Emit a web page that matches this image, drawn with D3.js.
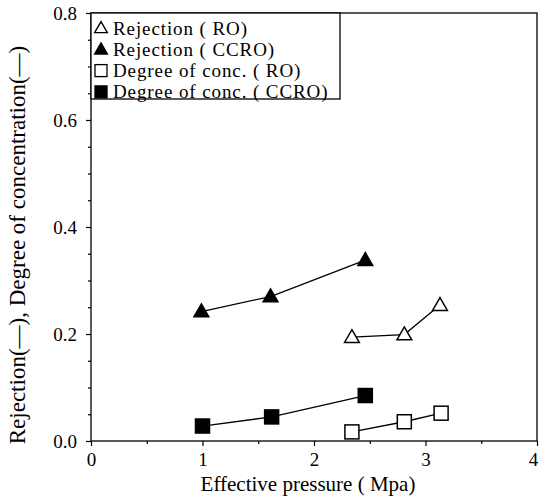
<!DOCTYPE html>
<html><head><meta charset="utf-8">
<script src="https://cdn.jsdelivr.net/npm/d3@7"></script>
<style>body{margin:0;background:#fff}svg{display:block}text{font-family:"Liberation Serif","Times New Roman",serif;fill:#000}</style>
</head><body><svg id="c" width="539" height="499"></svg>
<script>
const xTicks = [0, 1, 2, 3, 4];
const yTicks = [0.0, 0.2, 0.4, 0.6, 0.8];
const rejRO_x = [2.34, 2.81, 3.13];
const rejRO_y = [0.194, 0.199, 0.254];
const rejCCRO_x = [0.99, 1.61, 2.46];
const rejCCRO_y = [0.242, 0.270, 0.338];
const concRO_x = [2.34, 2.81, 3.14];
const concRO_y = [0.017, 0.036, 0.052];
const concCCRO_x = [1.0, 1.62, 2.46];
const concCCRO_y = [0.028, 0.045, 0.085];
const legendLabels = ["Rejection ( RO)", "Rejection ( CCRO)", "Degree of conc. ( RO)", "Degree of conc. ( CCRO)"];
const xTitle = "Effective pressure ( Mpa)";
const yTitle = "Rejection(\u2014), Degree of concentration(\u2014)";

const svg = d3.select("#c");
const L = 91, R = 537, T = 13, B = 441;
const x = d3.scaleLinear().domain([0, 4]).range([L, R]);
const y = d3.scaleLinear().domain([0, 0.8]).range([B, T]);

// frame
svg.append("rect").attr("x", L).attr("y", T).attr("width", R - L).attr("height", B - T)
  .attr("fill", "none").attr("stroke", "#000").attr("stroke-width", 1.3);

// x axis
svg.append("g").attr("transform", `translate(0,${B})`)
  .call(d3.axisBottom(x).tickValues(xTicks).tickFormat(d3.format("d")).tickSize(5).tickPadding(7))
  .selectAll(".tick text").attr("dx", d => d === 4 ? -4 : 0);
svg.append("g").attr("transform", `translate(0,${B})`)
  .call(d3.axisBottom(x).tickValues(d3.range(0.5, 4, 1)).tickFormat("").tickSize(3));
// y axis
svg.append("g").attr("transform", `translate(${L},0)`)
  .call(d3.axisLeft(y).tickValues(yTicks).tickFormat(d3.format(".1f")).tickSize(5).tickPadding(9));
svg.append("g").attr("transform", `translate(${L},0)`)
  .call(d3.axisLeft(y).tickValues(d3.range(0.05, 0.8, 0.05).filter(v => Math.abs(v / 0.2 - Math.round(v / 0.2)) > 0.01)).tickFormat("").tickSize(3));
svg.selectAll(".domain").remove();
svg.selectAll(".tick line").attr("stroke", "#000").attr("stroke-width", 1.2);
svg.selectAll(".tick text").attr("font-size", 19).attr("font-family", "Liberation Serif");

// titles
svg.append("text").attr("x", (L + R) / 2 - 6).attr("y", 491).attr("text-anchor", "middle")
  .attr("font-size", 21).text(xTitle);
svg.append("text").attr("transform", `translate(25,245) rotate(-90)`)
  .attr("text-anchor", "middle").attr("font-size", 23).text(yTitle);

// series
const line = d3.line();
const tri = d3.symbol().type(d3.symbolTriangle).size(95);
function series(xs, ys, shape, filled) {
  const pts = xs.map((v, i) => [x(v), y(ys[i])]);
  svg.append("path").attr("d", line(pts)).attr("fill", "none").attr("stroke", "#000").attr("stroke-width", 1.3);
  pts.forEach(p => {
    if (shape === "tri") {
      svg.append("path").attr("d", tri()).attr("transform", `translate(${p[0]},${p[1] + 1})`)
        .attr("fill", filled ? "#000" : "#fff").attr("stroke", "#000").attr("stroke-width", 1.5);
    } else {
      svg.append("rect").attr("x", p[0] - 7).attr("y", p[1] - 7).attr("width", 14).attr("height", 14)
        .attr("fill", filled ? "#000" : "#fff").attr("stroke", "#000").attr("stroke-width", 1.5);
    }
  });
}
series(rejRO_x, rejRO_y, "tri", false);
series(rejCCRO_x, rejCCRO_y, "tri", true);
series(concRO_x, concRO_y, "sq", false);
series(concCCRO_x, concCCRO_y, "sq", true);

// legend
const lg = svg.append("g");
lg.append("rect").attr("x", L).attr("y", T).attr("width", 249).attr("height", 86)
  .attr("fill", "#fff").attr("stroke", "#000").attr("stroke-width", 1.3);
const shapes = [["tri", false], ["tri", true], ["sq", false], ["sq", true]];
const legTri = d3.symbol().type(d3.symbolTriangle).size(70);
legendLabels.forEach((t, i) => {
  const cy = 28 + i * 21.3;
  const [s, f] = shapes[i];
  if (s === "tri") {
    lg.append("path").attr("d", legTri()).attr("transform", `translate(101,${cy + 1})`)
      .attr("fill", f ? "#000" : "#fff").attr("stroke", "#000").attr("stroke-width", 1.4);
  } else {
    lg.append("rect").attr("x", 95).attr("y", cy - 6).attr("width", 12).attr("height", 12)
      .attr("fill", f ? "#000" : "#fff").attr("stroke", "#000").attr("stroke-width", 1.3);
  }
  lg.append("text").attr("x", 113).attr("y", cy + 6.5).attr("font-size", 19)
    .attr("letter-spacing", 0.9).text(t);
});
</script></body></html>
